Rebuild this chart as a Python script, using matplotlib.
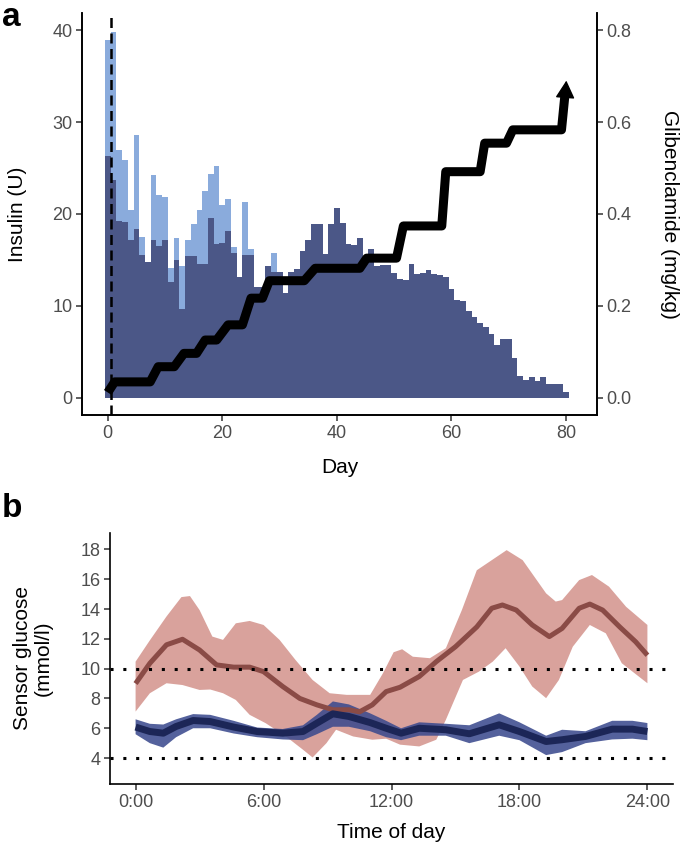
import numpy as np
import matplotlib
matplotlib.use("Agg")
import matplotlib.pyplot as plt

plt.rcParams['font.family'] = ['Liberation Sans', 'DejaVu Sans']

# ---------------- Panel a data ----------------
days = list(range(0, 81))
insulin_dark = [26.3, 23.7, 19.2, 19.1, 17.2, 18.4, 15.5, 14.8, 17.2, 16.5,
                17.2, 12.6, 15.0, 9.7, 15.4, 15.4, 14.6, 14.6, 19.6, 16.7,
                16.9, 18.1, 15.8, 13.2, 15.5, 15.5, 12.1, 12.1, 14.3, 13.7,
                13.7, 11.4, 13.7, 14.0, 16.0, 17.2, 18.9, 18.9, 15.7, 18.9,
                20.7, 19.0, 16.7, 16.6, 17.4, 15.0, 16.2, 14.3, 14.5, 14.5,
                13.6, 12.9, 12.8, 14.6, 13.5, 13.6, 13.9, 13.5, 13.4, 13.1,
                11.8, 10.6, 10.5, 9.5, 8.8, 8.2, 7.7, 7.0, 5.8, 6.4,
                6.4, 4.4, 2.4, 2.0, 2.25, 1.9, 2.25, 1.5, 1.5, 1.5,
                0.7]
insulin_light = [38.9, 39.8, 27.0, 25.9, 20.4, 28.6, 17.5, 14.8, 24.2, 22.1,
                 21.9, 14.1, 17.4, 14.3, 17.2, 18.9, 20.4, 22.5, 24.4, 25.2,
                 21.0, 21.6, 16.4, 13.2, 21.3, 16.2, 0, 0, 0, 15.8] + [0] * 51

dose_days = [0, 1.2, 7.4, 8.8, 11.6, 13.3, 15.5, 17.0, 19.0, 21.0, 23.5, 25.0,
             27.0, 28.2, 34.3, 36.2, 44.0, 45.2, 50.4, 51.6, 58.3, 59.0,
             65.0, 65.8, 69.6, 70.7, 79.2, 80.05]
dose_mgkg = [0.012, 0.035, 0.035, 0.068, 0.068, 0.097, 0.097, 0.126, 0.126,
             0.159, 0.159, 0.217, 0.217, 0.255, 0.255, 0.282, 0.282, 0.304,
             0.304, 0.374, 0.374, 0.492, 0.492, 0.554, 0.554, 0.583, 0.583,
             0.69]
start_day = 0.5

# ---------------- Panel b data ----------------
red_h = [0, 0.67, 1.45, 2.2, 3.0, 3.8, 4.6, 5.35, 6.0, 6.9, 7.7, 8.5, 9.25,
         10.0, 10.5, 11.1, 11.75, 12.4, 13.3, 14.1, 15.0, 16.0, 16.7, 17.2,
         17.85, 18.6, 19.4, 20.0, 20.8, 21.3, 21.9, 22.7, 23.45, 24.0]
red_mean = [9.0, 10.36, 11.6, 11.97, 11.25, 10.25, 10.1, 10.1, 9.8, 8.8, 8.0,
            7.57, 7.24, 7.24, 7.1, 7.57, 8.46, 8.75, 9.47, 10.47, 11.47, 12.8,
            14.05, 14.27, 13.93, 12.93, 12.15, 12.7, 14.05, 14.33, 13.93, 12.8,
            11.8, 10.9]
red_up_h = [0, 0.67, 1.45, 2.15, 2.55, 3.0, 3.6, 4.1, 4.7, 5.35, 6.0, 6.75,
            7.5, 8.3, 9.1, 9.9, 11.0, 11.6, 12.1, 12.5, 13.0, 13.8, 14.55,
            15.3, 16.0, 17.4, 18.15, 19.25, 19.7, 20.0, 20.8, 21.4, 22.2,
            23.0, 24.0]
red_upper = [10.47, 11.9, 13.5, 14.8, 14.87, 13.93, 12.15, 11.93, 13.04, 13.2,
             12.93, 11.93, 10.58, 9.24, 8.35, 8.24, 8.24, 9.69, 11.1, 11.3,
             10.8, 10.7, 11.37, 13.93, 16.6, 17.95, 17.28, 15.05, 14.5, 14.6,
             15.94, 16.28, 15.5, 14.15, 12.93]
red_lo_h = [0, 0.67, 1.45, 2.2, 3.0, 3.5, 4.1, 4.7, 5.35, 6.1, 7.05, 7.85, 8.3,
            8.95, 9.4, 10.2, 11.1, 11.75, 12.4, 13.3, 14.1, 14.55, 15.35,
            16.1, 16.75, 17.35, 18.0, 18.6, 19.25, 19.85, 20.5, 21.3, 22.05,
            22.8, 24.0]
red_lower = [7.12, 8.35, 9.02, 8.9, 8.57, 8.6, 8.35, 7.9, 6.9, 6.34, 5.45,
             4.56, 4.04, 5.0, 5.9, 5.45, 5.23, 5.3, 4.9, 4.78, 5.23, 6.57,
             9.24, 9.8, 10.47, 11.37, 10.14, 8.8, 8.02, 9.24, 11.47, 12.93,
             12.37, 10.36, 9.02]

blue_h = [0, 0.67, 1.3, 1.9, 2.7, 3.5, 4.6, 5.7, 6.9, 7.85, 8.5, 9.25, 10.0,
          11.0, 11.75, 12.45, 13.3, 14.55, 15.65, 17.05, 18.0, 19.25, 20.0,
          21.1, 22.35, 23.3, 24.0]
blue_mean = [6.08, 5.78, 5.67, 6.12, 6.52, 6.45, 6.08, 5.78, 5.67, 5.78, 6.34,
             6.97, 6.79, 6.38, 6.0, 5.67, 6.0, 5.9, 5.63, 6.23, 5.78, 5.11,
             5.23, 5.45, 5.94, 5.94, 5.78]
blue_upper = [6.6, 6.3, 6.25, 6.6, 6.95, 6.9, 6.5, 6.05, 5.95, 6.2, 6.9, 7.8,
              7.6, 7.0, 6.5, 6.0, 6.4, 6.3, 6.2, 7.0, 6.4, 5.5, 5.9, 5.8, 6.5,
              6.5, 6.35]
blue_lower = [5.6, 5.0, 4.7, 5.4, 6.0, 6.0, 5.65, 5.4, 5.25, 5.2, 5.6, 6.1,
              6.1, 5.8, 5.4, 5.2, 5.5, 5.5, 5.0, 5.5, 5.2, 4.2, 4.4, 5.0, 5.25,
              5.3, 5.2]

target_lines = [4, 10]
time_ticks = [0, 6, 12, 18, 24]
time_labels = ['0:00', '6:00', '12:00', '18:00', '24:00']

# ---------------- Styling ----------------
W, H = 685, 849
fig = plt.figure(figsize=(W / 100, H / 100), dpi=100)

TICK_FS = 13
LAB_FS = 15
TICK_COL = '#4d4d4d'
SPINE_LW = 1.2


def style_axis(ax, spines):
    for s in ['left', 'right', 'top', 'bottom']:
        ax.spines[s].set_visible(s in spines)
        ax.spines[s].set_linewidth(SPINE_LW)
        ax.spines[s].set_color('black')
    ax.tick_params(axis='both', direction='out', length=4, width=1.1,
                   color='#333333', labelcolor=TICK_COL, labelsize=TICK_FS,
                   pad=3)


def fx(px):
    return px / W


def fy(py):
    return 1 - py / H


# Panel a
axa = fig.add_axes([fx(82), fy(415), fx(597) - fx(82), fy(13) - fy(415)])
axa.bar(days, insulin_light, width=1.0, color='#8aabdc', linewidth=0)
axa.bar(days, insulin_dark, width=1.0, color='#4b5787', linewidth=0)
axa.axvline(start_day, color='black', lw=1.8, ls=(0, (4, 2.2)), zorder=3)
axa.set_xlim(-4.5, 85.4)
axa.set_ylim(-1.85, 41.85)
axa.set_xticks([0, 20, 40, 60, 80])
axa.set_yticks([0, 10, 20, 30, 40])
style_axis(axa, ['left', 'bottom', 'right'])
axa.set_xlabel('Day', fontsize=LAB_FS, labelpad=12)
axa.set_ylabel('Insulin (U)', fontsize=LAB_FS, labelpad=18)

ax2 = axa.twinx()
ax2.set_ylim(-1.85 / 50, 41.85 / 50)
ax2.set_yticks([0.0, 0.2, 0.4, 0.6, 0.8])
ax2.set_yticklabels(['0.0', '0.2', '0.4', '0.6', '0.8'])
style_axis(ax2, ['left', 'bottom', 'right'])
# line up to the arrow head base, then a small head at the final point
head_frac = 0.72
line_x = dose_days[:-1] + [dose_days[-2] + head_frac * (dose_days[-1] - dose_days[-2])]
line_y = dose_mgkg[:-1] + [dose_mgkg[-2] + head_frac * (dose_mgkg[-1] - dose_mgkg[-2])]
ax2.plot(line_x, line_y, color='black', lw=6.5,
         solid_joinstyle='round', solid_capstyle='butt', zorder=4)
ax2.annotate('', xy=(dose_days[-1], dose_mgkg[-1]),
             xytext=(line_x[-1], line_y[-1] - 0.01),
             arrowprops=dict(arrowstyle='-|>,head_length=1.0,head_width=0.55',
                             lw=1, color='black', shrinkA=0, shrinkB=0,
                             mutation_scale=11), zorder=4)
ax2.set_ylabel('Glibenclamide (mg/kg)', fontsize=LAB_FS, rotation=270,
               labelpad=34)

fig.text(fx(2), fy(2), 'a', fontsize=24, fontweight='bold', va='top',
         ha='left')

# Panel b
axb = fig.add_axes([fx(110), fy(784), fx(673) - fx(110), fy(533) - fy(784)])
axb.fill(np.concatenate([red_up_h, red_lo_h[::-1]]),
         np.concatenate([red_upper, red_lower[::-1]]),
         color='#d9a29c', lw=0, zorder=1)
axb.fill(np.concatenate([blue_h, blue_h[::-1]]),
         np.concatenate([blue_upper, blue_lower[::-1]]),
         color='#3c4b8e', alpha=0.88, lw=0, zorder=2)
axb.plot(red_h, red_mean, color='#8a4b46', lw=3.6, zorder=3,
         solid_capstyle='butt', solid_joinstyle='round')
axb.plot(blue_h, blue_mean, color='#1c2657', lw=5.0, zorder=4,
         solid_capstyle='butt', solid_joinstyle='round')
for yv in target_lines:
    axb.axhline(yv, color='black', lw=2.2, ls=(0, (1, 3.2)), zorder=5)
axb.set_xlim(-1.2, 25.2)
axb.set_ylim(2.26, 19.1)
axb.set_xticks(time_ticks)
axb.set_xticklabels(time_labels)
axb.set_yticks([4, 6, 8, 10, 12, 14, 16, 18])
style_axis(axb, ['left', 'bottom'])
axb.set_xlabel('Time of day', fontsize=LAB_FS, labelpad=9)
axb.set_ylabel('Sensor glucose\n(mmol/l)', fontsize=LAB_FS, labelpad=20,
               linespacing=1.1)

fig.text(fx(2), fy(493), 'b', fontsize=24, fontweight='bold', va='top',
         ha='left')

fig.savefig('out.png', dpi=100)
